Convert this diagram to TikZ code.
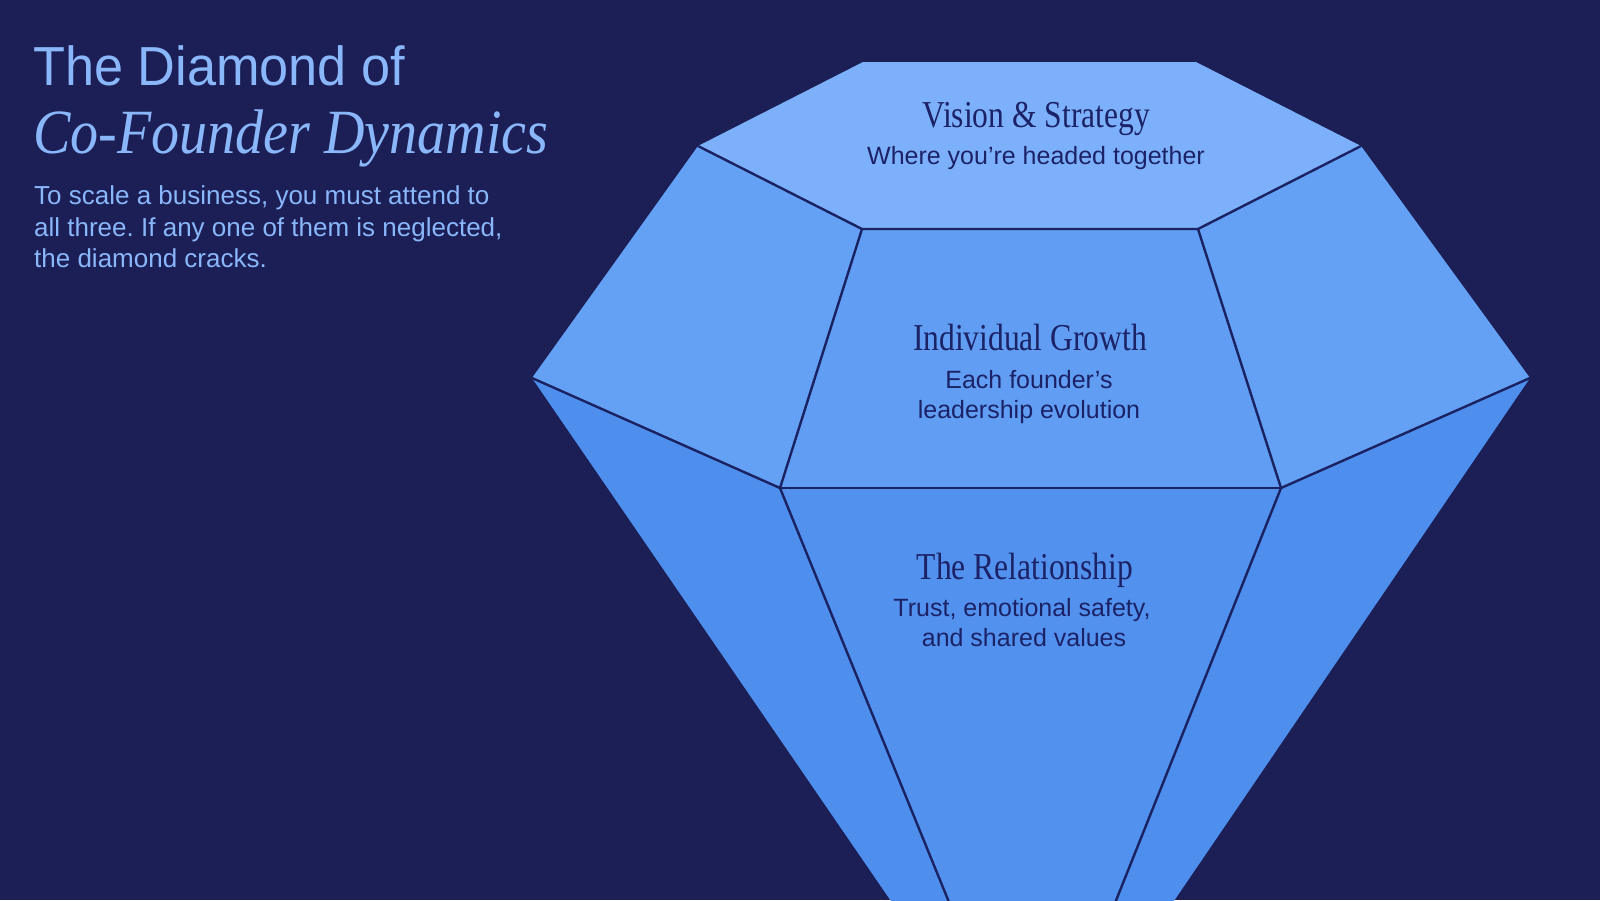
\documentclass[tikz,border=0pt]{standalone}
\usepackage{fontspec}
\setmainfont{Liberation Serif}
\setsansfont{Liberation Sans}
\usepackage{graphicx}
\definecolor{bgC}{HTML}{1B1F55}
\definecolor{titleC}{HTML}{8AB6FA}
\definecolor{tableC}{HTML}{7DB0FB}
\definecolor{crownC}{HTML}{64A1F5}
\definecolor{midC}{HTML}{609DF3}
\definecolor{pavC}{HTML}{4E8FEE}
\definecolor{cpavC}{HTML}{5391EF}
\definecolor{lineC}{HTML}{1A2262}
\definecolor{inkC}{HTML}{1B2266}
\frenchspacing
\begin{document}
\begin{tikzpicture}[x=1pt,y=-1pt,
  edge/.style={draw=lineC, line width=2.4pt, line cap=round, line join=round},
  headtxt/.style={anchor=base, inner sep=0pt, text=inkC, font=\rmfamily\fontsize{38}{44}\selectfont},
  subtxt/.style={anchor=base, inner sep=0pt, text=inkC, font=\sffamily\fontsize{25}{30}\selectfont},
  paratxt/.style={anchor=base west, inner sep=0pt, text=titleC, font=\sffamily\fontsize{26}{31}\selectfont}]
\fill[bgC] (0,0) rectangle (1600,900);
\useasboundingbox (0,0) rectangle (1600,900);
\coordinate (A) at (863,62);
\coordinate (B) at (1196,62);
\coordinate (C) at (698,146);
\coordinate (D) at (1361,146);
\coordinate (E) at (862,229);
\coordinate (F) at (1198,229);
\coordinate (G) at (532,378);
\coordinate (H) at (1530,378);
\coordinate (I) at (780,488);
\coordinate (J) at (1281,488);
\coordinate (T) at (1033,1108);
\begin{scope}
\clip (0,0) rectangle (1600,900);
\fill[tableC] (A)--(B)--(D)--(F)--(E)--(C)--cycle;
\fill[crownC] (C)--(E)--(I)--(G)--cycle;
\fill[crownC] (D)--(F)--(J)--(H)--cycle;
\fill[midC] (E)--(F)--(J)--(I)--cycle;
\fill[pavC] (G)--(I)--(T)--cycle;
\fill[pavC] (H)--(J)--(T)--cycle;
\fill[cpavC] (I)--(J)--(T)--cycle;
\draw[edge] (C)--(E)--(F)--(D);
\draw[edge] (E)--(I)--(G);
\draw[edge] (F)--(J)--(H);
\draw[edge] (I)--(J);
\draw[edge] (I)--(T);
\draw[edge] (J)--(T);
\end{scope}
% title
\node[anchor=base west, inner sep=0pt, text=titleC, font=\sffamily\fontsize{55}{60}\selectfont] (title1) at (33,85) {\scalebox{0.95}[1]{The Diamond of}};
\node[anchor=base west, inner sep=0pt, text=titleC, font=\rmfamily\itshape\fontsize{63}{66}\selectfont] (title2) at (33,153) {\scalebox{0.89}[1]{Co-Founder Dynamics}};
\node[paratxt] (para1) at (34,204) {To scale a business, you must attend to};
\node[paratxt] (para2) at (34,236) {all three. If any one of them is neglected,};
\node[paratxt] (para3) at (34,267) {the diamond cracks.};
% facet labels
\node[headtxt] (vision) at (1036,127) {\scalebox{0.83}[1]{Vision \& Strategy}};
\node[subtxt] (visionsub) at (1036,164) {Where you’re headed together};
\node[headtxt] (growth) at (1030,350) {\scalebox{0.83}[1]{Individual Growth}};
\node[subtxt] (growthsub1) at (1029,388) {Each founder’s};
\node[subtxt] (growthsub2) at (1029,418) {leadership evolution};
\node[headtxt] (rel) at (1025,579) {\scalebox{0.83}[1]{The Relationship}};
\node[subtxt] (relsub1) at (1022,616) {Trust, emotional safety,};
\node[subtxt] (relsub2) at (1024,646) {and shared values};
\end{tikzpicture}
\end{document}
